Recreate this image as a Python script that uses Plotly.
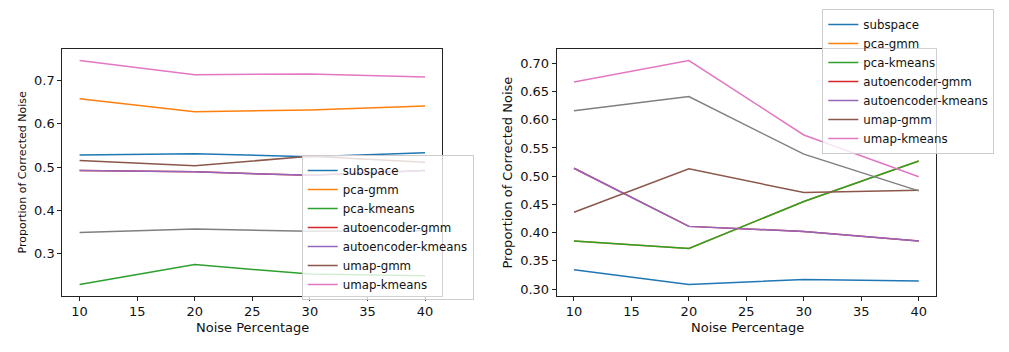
import plotly.graph_objects as go

noise_pct = [10, 20, 30, 40]
labels = ["subspace", "pca-gmm", "pca-kmeans", "autoencoder-gmm",
          "autoencoder-kmeans", "umap-gmm", "umap-kmeans", ""]

# left panel values (order: subspace, pca-gmm, pca-kmeans, ae-gmm, ae-kmeans, umap-gmm, umap-kmeans, unlabeled)
left_subspace = [0.528, 0.531, 0.524, 0.533]
left_pca_gmm = [0.658, 0.628, 0.632, 0.641]
left_pca_kmeans = [0.229, 0.275, 0.253, 0.249]
left_ae_gmm = [0.492, 0.489, 0.481, 0.492]
left_ae_kmeans = [0.492, 0.489, 0.481, 0.492]
left_umap_gmm = [0.515, 0.503, 0.525, 0.511]
left_umap_kmeans = [0.746, 0.713, 0.715, 0.708]
left_extra = [0.349, 0.357, 0.352, 0.353]

# right panel values
right_subspace = [0.334, 0.308, 0.317, 0.314]
right_pca_gmm = [0.385, 0.372, 0.455, 0.527]
right_pca_kmeans = [0.385, 0.372, 0.455, 0.527]
right_ae_gmm = [0.514, 0.411, 0.402, 0.385]
right_ae_kmeans = [0.514, 0.411, 0.402, 0.385]
right_umap_gmm = [0.436, 0.513, 0.471, 0.475]
right_umap_kmeans = [0.667, 0.705, 0.573, 0.499]
right_extra = [0.616, 0.641, 0.539, 0.474]

left_series = [left_subspace, left_pca_gmm, left_pca_kmeans, left_ae_gmm,
               left_ae_kmeans, left_umap_gmm, left_umap_kmeans, left_extra]
right_series = [right_subspace, right_pca_gmm, right_pca_kmeans, right_ae_gmm,
                right_ae_kmeans, right_umap_gmm, right_umap_kmeans, right_extra]

colors = ["#1f77b4", "#ff7f0e", "#2ca02c", "#d62728",
          "#9467bd", "#8c564b", "#e377c2", "#7f7f7f"]

W, H = 1009, 352
FONT = "DejaVu Sans"

fig = go.Figure()
for i, ys in enumerate(left_series):
    fig.add_trace(go.Scatter(
        x=noise_pct, y=ys, mode="lines", name=labels[i],
        line=dict(color=colors[i], width=1.5),
        xaxis="x", yaxis="y", legend="legend",
        showlegend=bool(labels[i])))
for i, ys in enumerate(right_series):
    fig.add_trace(go.Scatter(
        x=noise_pct, y=ys, mode="lines", name=labels[i],
        line=dict(color=colors[i], width=1.5),
        xaxis="x2", yaxis="y2", legend="legend2",
        showlegend=bool(labels[i])))


def yrange(series):
    lo = min(min(s) for s in series)
    hi = max(max(s) for s in series)
    m = (hi - lo) * 0.05
    return [lo - m, hi + m]


axis_common = dict(showline=True, linecolor="#222", linewidth=1, mirror=True,
                   ticks="outside", ticklen=4, tickcolor="#222", showgrid=False,
                   zeroline=False, tickfont=dict(family=FONT, size=13, color="#111"))

ydom = [1 - 295.7 / H, 1 - 49.3 / H]
legend_common = dict(bgcolor="rgba(255,255,255,0.8)", bordercolor="#cccccc",
                     borderwidth=1, font=dict(family=FONT, size=11.8, color="#111"),
                     xanchor="left", yanchor="top", itemwidth=30, tracegroupgap=0)

title_font_big = dict(family=FONT, size=13, color="#111")
title_font_small = dict(family=FONT, size=11, color="#111")

fig.update_layout(
    width=W, height=H,
    margin=dict(l=0, r=0, t=0, b=0),
    paper_bgcolor="white", plot_bgcolor="white",
    font=dict(family=FONT, color="#111"),
    xaxis=dict(domain=[62.3 / W, 442.3 / W], range=[8.5, 41.5],
               tickvals=[10, 15, 20, 25, 30, 35, 40], anchor="y", **axis_common),
    yaxis=dict(domain=ydom, range=yrange(left_series),
               tickvals=[0.3, 0.4, 0.5, 0.6, 0.7], tickformat=".1f",
               anchor="x", **axis_common),
    xaxis2=dict(domain=[556.7 / W, 936 / W], range=[8.5, 41.5],
                tickvals=[10, 15, 20, 25, 30, 35, 40], anchor="y2", **axis_common),
    yaxis2=dict(domain=ydom, range=yrange(right_series),
                tickvals=[0.30, 0.35, 0.40, 0.45, 0.50, 0.55, 0.60, 0.65, 0.70],
                tickformat=".2f", anchor="x2", **axis_common),
    legend=dict(x=301.7 / W, y=1 - 155 / H, **legend_common),
    legend2=dict(x=822.3 / W, y=1 - 9 / H, **legend_common),
    annotations=[
        dict(text="Noise Percentage", x=252 / W, y=1 - 327 / H, xref="paper", yref="paper",
             xanchor="center", yanchor="middle", showarrow=False, font=title_font_big),
        dict(text="Noise Percentage", x=747 / W, y=1 - 327 / H, xref="paper", yref="paper",
             xanchor="center", yanchor="middle", showarrow=False, font=title_font_big),
        dict(text="Proportion of Corrected Noise", x=22 / W, y=1 - 172.5 / H,
             xref="paper", yref="paper", xanchor="center", yanchor="middle",
             showarrow=False, textangle=-90, font=title_font_small),
        dict(text="Proportion of Corrected Noise", x=507 / W, y=1 - 172.5 / H,
             xref="paper", yref="paper", xanchor="center", yanchor="middle",
             showarrow=False, textangle=-90, font=title_font_big),
    ],
)

fig.write_html("out.html")
